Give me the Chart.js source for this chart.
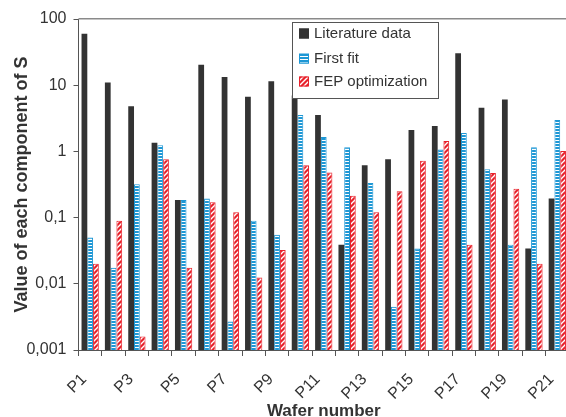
<!DOCTYPE html>
<html><head><meta charset="utf-8">
<script src="https://cdn.jsdelivr.net/npm/chart.js@4"></script>
<style>html,body{margin:0;padding:0;overflow:hidden;background:#fff}#wrap{width:569px;height:417px;position:relative}</style>
</head><body><div id="wrap"><canvas id="c"></canvas></div>
<script>
const categories = ['P1','P2','P3','P4','P5','P6','P7','P8','P9','P10','P11','P12','P13','P14','P15','P16','P17','P18','P19','P20','P21'];
const literatureData = [60, 11, 4.8, 1.35, 0.185, 20.4, 13.3, 6.7, 11.5, 7, 3.55, 0.039, 0.62, 0.76, 2.1, 2.42, 30.3, 4.57, 6.1, 0.034, 0.195];
const firstFit = [0.050, 0.0175, 0.318, 1.24, 0.185, 0.195, 0.0027, 0.090, 0.055, 3.55, 1.65, 1.16, 0.333, 0.0045, 0.034, 1.07, 1.90, 0.536, 0.039, 1.16, 2.98];
const fepOptimization = [0.020, 0.090, 0.0016, 0.76, 0.0175, 0.170, 0.12, 0.0124, 0.0325, 0.62, 0.48, 0.214, 0.12, 0.25, 0.72, 1.44, 0.039, 0.472, 0.273, 0.020, 1.01];
const seriesNames = ['Literature data', 'First fit', 'FEP optimization'];
const yTickValues = [0.001, 0.01, 0.1, 1, 10, 100];
const yTickLabels = ['0,001', '0,01', '0,1', '1', '10', '100'];
const xTitle = 'Wafer number';
const yTitle = 'Value of each component of S';

const FONT = "'Liberation Sans', Arial, sans-serif";
const DARK = '#333333';
const BLUE = '#1d97d5';
const RED = '#e8212b';

function stripePattern() {
  const c = document.createElement('canvas'); c.width = 4; c.height = 3;
  const g = c.getContext('2d');
  g.fillStyle = BLUE; g.fillRect(0, 0, 4, 3);
  g.fillStyle = '#ffffff'; g.fillRect(0, 2, 4, 1);
  return g.createPattern(c, 'repeat');
}
function diagPattern() {
  const s = 5;
  const c = document.createElement('canvas'); c.width = s; c.height = s;
  const g = c.getContext('2d');
  g.fillStyle = RED; g.fillRect(0, 0, s, s);
  g.strokeStyle = '#ffffff'; g.lineWidth = 1.4;
  g.beginPath();
  g.moveTo(0, s); g.lineTo(s, 0);
  g.moveTo(-1, 1); g.lineTo(1, -1);
  g.moveTo(s - 1, s + 1); g.lineTo(s + 1, s - 1);
  g.stroke();
  return g.createPattern(c, 'repeat');
}

const topLine = {
  id: 'topLine',
  afterDraw(chart) {
    const {ctx, chartArea} = chart;
    ctx.save();
    ctx.strokeStyle = '#8a8a8a'; ctx.lineWidth = 1.5;
    ctx.beginPath(); ctx.moveTo(chartArea.left, chartArea.top - 0.25); ctx.lineTo(chartArea.right, chartArea.top - 0.25); ctx.stroke();
    ctx.restore();
  }
};

const boxLegend = {
  id: 'boxLegend',
  afterDraw(chart) {
    const ctx = chart.ctx;
    ctx.save();
    const x = 292.5, y = 22.5, w = 146, h = 76;
    ctx.fillStyle = '#ffffff'; ctx.fillRect(x, y, w, h);
    ctx.strokeStyle = '#555555'; ctx.lineWidth = 1; ctx.strokeRect(x, y, w, h);
    const rows = [33.5, 58.5, 81.5];
    chart.data.datasets.forEach((ds, i) => {
      const cy = rows[i];
      ctx.fillStyle = ds.backgroundColor;
      ctx.fillRect(299, cy - 5, 10, 10);
      ctx.strokeStyle = ds.borderColor; ctx.lineWidth = 1;
      ctx.strokeRect(299.5, cy - 4.5, 9, 9);
      ctx.fillStyle = '#333333';
      ctx.font = "15px " + FONT;
      ctx.textBaseline = 'middle'; ctx.textAlign = 'left';
      ctx.fillText(ds.label, 314, cy);
    });
    ctx.restore();
  }
};

new Chart(document.getElementById('c'), {
  type: 'bar',
  data: {
    labels: categories,
    datasets: [
      {label: seriesNames[0], data: literatureData, backgroundColor: DARK, borderColor: DARK, borderWidth: 0},
      {label: seriesNames[1], data: firstFit, backgroundColor: stripePattern(), borderColor: BLUE, borderWidth: 1, borderSkipped: 'start'},
      {label: seriesNames[2], data: fepOptimization, backgroundColor: diagPattern(), borderColor: RED, borderWidth: 1, borderSkipped: 'start'}
    ]
  },
  options: {
    responsive: true, maintainAspectRatio: false, animation: false,
    datasets: {bar: {categoryPercentage: 0.74, barPercentage: 1.0}},
    layout: {padding: {top: 19, left: 0, right: 0, bottom: 0}},
    plugins: {legend: {display: false}, tooltip: {enabled: false}},
    scales: {
      x: {
        grid: {display: true, drawOnChartArea: false, offset: true, tickLength: 6, color: '#555555'},
        border: {color: '#555555', width: 1},
        ticks: {autoSkip: false, maxRotation: 45, minRotation: 45, color: '#333333', padding: 14, labelOffset: -6,
          font: {family: FONT, size: 16},
          callback: (v, i) => (i % 2 === 0 ? categories[i] : '')},
        title: {display: true, text: xTitle, color: '#333333', font: {family: FONT, size: 17, weight: 'bold'}, padding: {top: 0, bottom: -5}},
        afterFit(s) { s.height = 67; s.paddingLeft = 0; s.paddingRight = 0; }
      },
      y: {
        type: 'logarithmic', min: 0.001, max: 100,
        afterBuildTicks(s) { s.ticks = yTickValues.map(v => ({value: v})); },
        ticks: {color: '#333333', padding: 7, font: {family: FONT, size: 16},
          callback: (v) => { const i = yTickValues.indexOf(v); return i >= 0 ? yTickLabels[i] : ''; }},
        grid: {display: true, drawOnChartArea: false, tickLength: 5, color: '#555555'},
        border: {color: '#555555', width: 1},
        title: {display: true, text: yTitle, color: '#333333', font: {family: FONT, size: 18, weight: 'bold'}, padding: {top: 11, bottom: 0}},
        afterFit(s) { s.width = 78.5; }
      }
    }
  },
  plugins: [topLine, boxLegend]
});
</script>
</body></html>
